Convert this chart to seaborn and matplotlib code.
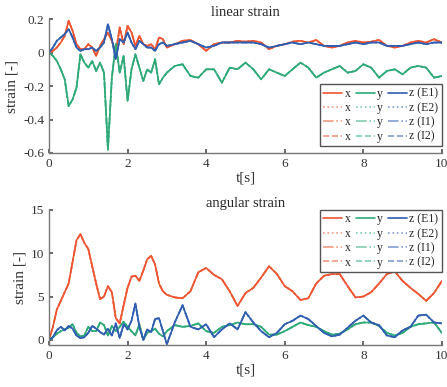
import numpy as np
import matplotlib
matplotlib.use("Agg")
import matplotlib.pyplot as plt
import seaborn as sns

# time axis: 0.1 s steps until 3 s, then 0.2 s steps
t = [round(0.1 * i, 1) for i in range(31)] + [round(3.0 + 0.2 * i, 1) for i in range(1, 36)]

# linear strain
lin_x = [0, 0.01, 0.03, 0.06, 0.10, 0.19, 0.13, 0.05, 0.02, 0.02,
         0.05, 0.03, -0.02, 0.04, 0.08, 0.12, 0.07, 0.0, 0.15, 0.05,
         0.16, 0.12, 0.04, 0.10, 0.05, 0.04, 0.05, 0.02, 0.09, 0.08, 0.03,
         0.05, 0.07, 0.075, 0.05, 0.01, 0.05, 0.06, 0.06, 0.07, 0.065,
         0.07, 0.06, 0.02, 0.04, 0.05, 0.065, 0.07, 0.06, 0.075, 0.04,
         0.03, 0.04, 0.06, 0.07, 0.06, 0.065, 0.075, 0.04, 0.03, 0.04,
         0.06, 0.07, 0.06, 0.08, 0.06]
lin_y = [0, -0.02, -0.05, -0.10, -0.16, -0.32, -0.28, -0.21, -0.01, -0.06,
         -0.09, -0.05, -0.11, -0.06, -0.12, -0.58, -0.15, 0.05, -0.12, -0.02,
         -0.29, -0.10, -0.01, -0.09, -0.17, -0.10, -0.12, -0.04, -0.19, -0.15, -0.12,
         -0.08, -0.07, -0.14, -0.15, -0.10, -0.10, -0.18, -0.09, -0.10, -0.06,
         -0.10, -0.16, -0.10, -0.12, -0.14, -0.10, -0.06, -0.09, -0.15, -0.12,
         -0.10, -0.08, -0.12, -0.11, -0.07, -0.09, -0.15, -0.11, -0.10, -0.13,
         -0.09, -0.08, -0.09, -0.15, -0.14]
lin_z = [0, 0.03, 0.07, 0.09, 0.11, 0.14, 0.09, 0.03, 0.01, 0.02,
         0.02, 0.03, 0.01, 0.03, 0.06, 0.17, 0.08, -0.04, 0.08, 0.06,
         0.12, 0.06, 0.02, 0.07, 0.05, 0.03, 0.03, 0.01, 0.05, 0.06, 0.04,
         0.05, 0.06, 0.07, 0.05, 0.03, 0.04, 0.06, 0.06, 0.06, 0.06,
         0.06, 0.05, 0.03, 0.04, 0.05, 0.06, 0.05, 0.06, 0.05, 0.04,
         0.04, 0.04, 0.05, 0.06, 0.05, 0.06, 0.06, 0.04, 0.04, 0.04,
         0.05, 0.06, 0.05, 0.06, 0.06]

# angular strain
ang_x = [0, 1.5, 3.5, 4.5, 5.5, 6.5, 9.0, 11.5, 12.2, 11.2,
         10.5, 8.5, 6.5, 4.7, 5.0, 6.2, 5.5, 2.5, 1.9, 4.0,
         6.0, 7.3, 7.4, 6.8, 8.0, 9.3, 9.7, 8.7, 6.5, 5.6, 5.2,
         4.9, 4.8, 5.6, 7.8, 8.3, 7.5, 7.0, 5.6, 3.9, 5.4,
         6.0, 7.2, 8.5, 7.6, 6.2, 5.6, 4.6, 4.8, 6.5, 7.4,
         7.6, 7.6, 6.2, 4.9, 5.0, 5.5, 6.5, 7.6, 7.9, 6.8,
         6.0, 5.3, 4.5, 5.4, 6.8]
ang_y = [0, 0.3, 0.7, 1.0, 1.2, 1.4, 1.8, 0.8, 0.4, 0.5,
         1.5, 1.0, 1.0, 2.0, 1.7, 0.5, 1.6, 1.0, 1.5, 2.1,
         1.5, 1.0, 0.5, 1.8, 0.0, 0.8, 1.0, 1.3, 0.7, 0.4, 1.0,
         1.7, 1.5, 1.6, 1.9, 1.0, 0.8, 1.5, 1.7, 2.0, 1.8,
         1.8, 1.5, 0.6, 0.6, 1.0, 1.5, 2.0, 1.7, 1.5, 1.0,
         0.6, 0.7, 1.2, 1.8, 2.0, 2.0, 1.6, 0.8, 0.5, 0.8,
         1.5, 1.8, 1.9, 2.0, 0.8]
ang_z = [0, 0.3, 1.1, 1.5, 1.1, 1.6, 1.3, 0.5, 0.2, 0.3,
         0.8, 1.6, 1.3, 0.9, 0.6, 1.3, 0.5, 1.9, 0.2, 1.8,
         1.2, 2.2, 4.2, 1.5, 0.0, 1.2, 0.9, 2.4, 2.5, 1.0, -0.5,
         2.0, 4.0, 1.5, 1.2, 1.8, 0.3, 1.2, 1.9, 1.2, 3.2,
         2.0, 1.0, 0.3, 0.8, 1.8, 2.2, 2.8, 2.4, 1.6, 0.8,
         0.4, 0.6, 1.4, 2.2, 2.8, 2.0, 1.7, 0.5, 0.3, 1.1,
         1.5, 2.8, 2.9, 2.0, 1.9]

colors = {"x": "#EE5530", "y": "#2EAA78", "z": "#2F5EB0"}
variants = ["E1", "E2", "I1", "I2"]
styles = {"E1": "-", "E2": ":", "I1": "-.", "I2": "--"}
alphas = {"E1": 1.0, "E2": 0.6, "I1": 0.6, "I2": 0.6}

sns.set_theme(style="ticks")
plt.rcParams["font.family"] = ["Liberation Serif", "DejaVu Serif"]
plt.rcParams["font.size"] = 9.5

fig = plt.figure(figsize=(4.47, 3.87), dpi=100)
ax1 = fig.add_axes([0.1096, 0.6047, 0.879, 0.346])
ax2 = fig.add_axes([0.1096, 0.1085, 0.879, 0.349])


def draw(ax, series, title, ylim, yticks, legend_loc, anchor):
    for comp in ["x", "y", "z"]:
        for v in variants:
            lab = comp if comp != "z" else f"z ({v})"
            sns.lineplot(x=t, y=series[comp], ax=ax, color=colors[comp],
                         linestyle=styles[v], alpha=alphas[v], linewidth=1.2,
                         label=lab)
    ax.set_xlim(0, 10)
    ax.set_ylim(*ylim)
    ax.set_xticks([0, 2, 4, 6, 8, 10])
    ax.set_yticks(yticks)
    ax.set_title(title, fontsize=10.5, pad=2)
    ax.set_xlabel("t[s]", fontsize=11, labelpad=1, color="#333333")
    ax.set_ylabel("strain [-]", fontsize=11, labelpad=3, color="#333333")
    ax.tick_params(direction="in", length=3, colors="#555555", labelsize=9.5,
                   labelcolor="#333333")
    sns.despine(ax=ax)
    for s in ["left", "bottom"]:
        ax.spines[s].set_color("#777777")
        ax.spines[s].set_linewidth(1.0)
    leg = ax.legend(ncol=3, loc=legend_loc, bbox_to_anchor=anchor,
                    fontsize=8.5, handlelength=1.6, handletextpad=0.2,
                    columnspacing=0.45, labelspacing=0.2, borderpad=0.3,
                    borderaxespad=0.0, frameon=True, fancybox=False,
                    framealpha=1)
    leg.get_frame().set_edgecolor("#555555")
    leg.get_frame().set_linewidth(1.0)


draw(ax1, {"x": lin_x, "y": lin_y, "z": lin_z}, "linear strain",
     (-0.6, 0.2), [-0.6, -0.4, -0.2, 0, 0.2], "lower right", (1.0, 0.05))
ax1.set_yticklabels(["-0.6", "-0.4", "-0.2", "0", "0.2"])
draw(ax2, {"x": ang_x, "y": ang_y, "z": ang_z}, "angular strain",
     (-0.6, 15), [0, 5, 10, 15], "upper right", (1.0, 1.0))

fig.savefig("out.png", dpi=100)
